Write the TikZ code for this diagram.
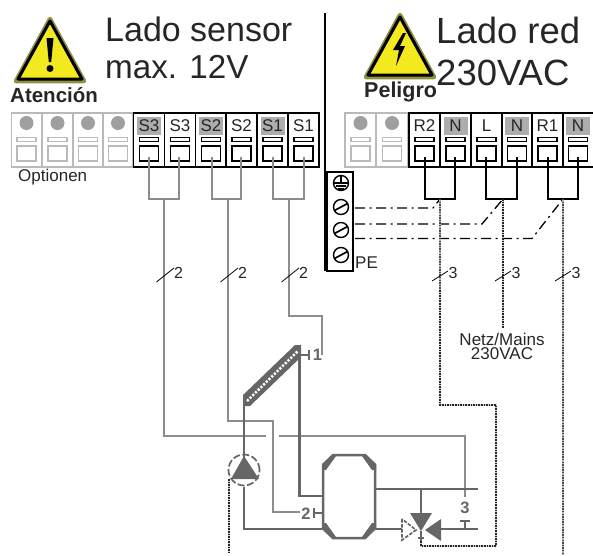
\documentclass[tikz,border=0pt]{standalone}
\usepackage{fontspec}
\setmainfont{Liberation Sans}
\definecolor{pipe}{HTML}{666666}
\definecolor{sig}{HTML}{8C8C8C}
\definecolor{optg}{HTML}{BABABA}
\definecolor{hl}{HTML}{ADADAD}
\definecolor{warn}{HTML}{F2EA1E}
\definecolor{olive}{HTML}{8F8F45}
\tikzset{
  txt/.style={inner sep=0pt,anchor=base west,text=black!85},
  sigwire/.style={draw=sig,line width=1.6pt},
  blackwire/.style={draw=black,line width=1.4pt},
  mainsdark/.style={draw=black!85,line width=1.5pt,dash pattern=on 1.6pt off 1pt,preaction={draw=gray!35,line width=1.9pt,solid}},
  mainsgray/.style={draw=black!70,line width=1.3pt,dash pattern=on 1.4pt off 1.2pt,preaction={draw=gray!55,line width=2.6pt,solid}},
  pipeline/.style={draw=pipe,line width=2.4pt},
  dashdot/.style={draw=black,line width=1.3pt,dash pattern=on 10pt off 4.5pt on 2pt off 4.5pt},
  slashmark/.style={draw=black,line width=.8pt},
  tinytxt/.style={inner sep=0pt,anchor=base,font=\fontsize{16}{16}\selectfont,text=black!85},
  pipetxt/.style={inner sep=0pt,font=\fontsize{16.5}{16.5}\selectfont\bfseries,text=pipe},
  screwc/.style={circle,draw=black,line width=1.4pt,minimum size=15pt,inner sep=0pt,fill=white},
}
\begin{document}
\begin{tikzpicture}[x=1pt,y=-1pt]
\useasboundingbox (0,0) rectangle (593,555);
% --- warning triangles
\path[fill=warn,draw=olive,line width=4.5pt,line join=round] (50,19)--(84,81)--(16,81)--cycle;
\path[draw=black,line width=3pt,line join=round] (50,21)--(82,79)--(18,79)--cycle;
\path[fill=black] (46.5,38)--(53.5,38)--(51.2,62)--(48.8,62)--cycle;
\fill[black] (50,68.5) circle (3.5pt);
\path[fill=warn,draw=olive,line width=4.5pt,line join=round] (400,15)--(434,77)--(366,77)--cycle;
\path[draw=black,line width=3pt,line join=round] (400,17)--(432,75)--(368,75)--cycle;
\path[fill=black] (403,33)--(393,50)--(399,50)--(396,66)--(405,46)--(400,46)--(406,33)--cycle;
% --- titles
\node[txt,font=\fontsize{34}{34}\selectfont] (t1) at (105,41) {Lado sensor};
\node[txt,font=\fontsize{33.2}{33.2}\selectfont] (t2) at (105,78) {max. 12V};
\node[txt,font=\fontsize{36.5}{36.5}\selectfont] (t3) at (436,43) {Lado red};
\node[txt,font=\fontsize{36.5}{36.5}\selectfont] (t4) at (436,85) {230VAC};
\node[txt,font=\fontsize{20.5}{20.5}\selectfont\bfseries] (t5) at (10,102) {Atención};
\node[txt,font=\fontsize{21.5}{21.5}\selectfont\bfseries] (t6) at (364,97) {Peligro};
\node[txt,font=\fontsize{17}{17}\selectfont] (t7) at (18,181) {Optionen};
% --- optional (gray) terminals
\foreach \cx/\w in {26.5/30,57.5/30,88/30,118/30,360.5/31,392/31}{
  \draw[optg,line width=1.8pt] (\cx-\w/2,113) rectangle (\cx+\w/2,167);
  \fill[gray!75] (\cx,123) circle (7pt);
  \draw[optg,line width=1.5pt] (\cx-9.5,137.5) rectangle (\cx+9.5,141.5);
  \draw[optg,line width=1.8pt] (\cx-9.5,146) rectangle (\cx+9.5,161);
}
% --- live terminals
\foreach \n/\cx/\l/\sh/\wx in {
  a/149/S3/1/149,b/180/S3/0/179,c/211/S2/1/212,d/241.5/S2/0/241,e/272.5/S1/1/273,f/303.5/S1/0/304,
  g/424.5/R2/0/425,h/455.5/N/1/455,i/486.5/L/0/486,j/517/N/1/517,k/547.5/R1/0/548,l/578/N/1/578}{
  \ifnum\sh=1 \fill[hl] (\cx-12,117) rectangle (\cx+12,135); \fi
  \draw[black,line width=1.5pt] (\cx-15.5,113) rectangle (\cx+15.5,167);
  \node[inner sep=0pt,anchor=base,font=\fontsize{17}{17}\selectfont,text=black!85] (lab\n) at (\cx,131) {\l};
  \draw[black,line width=1.2pt] (\cx-9.5,137.5) rectangle (\cx+9.5,141.5);
  \draw[black,line width=1.4pt] (\cx-9.5,146) rectangle (\cx+9.5,161);
  \coordinate (pin\n) at (\wx,157);
}
% --- junctions
\coordinate (j3) at (164,199);\coordinate (j2) at (228,199);\coordinate (j1) at (289,199);
\coordinate (jr) at (440,199);\coordinate (jl) at (503,199);\coordinate (jq) at (563,199);
\draw[sigwire] (pina) |- (j3); \draw[sigwire] (pinb) |- (j3);
\draw[sigwire] (pinc) |- (j2); \draw[sigwire] (pind) |- (j2);
\draw[sigwire] (pine) |- (j1); \draw[sigwire] (pinf) |- (j1);
\draw[blackwire] (ping) |- (jr); \draw[blackwire] (pinh) |- (jr);
\draw[blackwire] (pini) |- (jl); \draw[blackwire] (pinj) |- (jl);
\draw[blackwire] (pink) |- (jq); \draw[blackwire] (pinl) |- (jq);
% --- divider and PE block
\draw[black,line width=2.4pt] (325,13) -- (325,271);
\draw[black,line width=1.5pt] (327,172) rectangle (353,271);
\node[screwc] (gnd) at (341,183) {};
\draw[black,line width=1.1pt] (341,175.5)--(341,183) (334,183)--(348,183) (336,186)--(346,186) (338,189)--(344,189);
\foreach \n/\y in {sa/207,sb/230,sc/255}{
  \node[screwc] (\n) at (341,\y) {};
  \draw[black,line width=1.7pt] (334.5,\y+3.5)--(347.5,\y-3.5);
}
\node[txt,font=\fontsize{17}{17}\selectfont] (pe) at (355,268) {PE};
% --- dash-dot earth connections
\coordinate (ea) at (355,208);\coordinate (eb) at (355,224);\coordinate (ec) at (355,238.5);
\draw[dashdot] (ea) -- (433,208) -- (jr);
\draw[dashdot] (eb) -- (482,224) -- (jl);
\draw[dashdot] (ec) -- (532,238.5) -- (jq);
% --- mains wires
\coordinate (v1) at (421,546);\coordinate (v2) at (496,546);\coordinate (v3) at (496,405);\coordinate (v4) at (440,405);
\draw[mainsgray] (jr) -- (440,290);
\draw[mainsdark] (440,290) -- (v4) -- (v3) -- (v2) -- (v1) -- (421,540);
\draw[mainsdark] (jl) -- (503,328);
\draw[mainsgray] (jq) -- (563,555);
\draw[mainsdark] (229,479) -- (229,553);
% --- Netz label
\node[inner sep=0pt,anchor=base,font=\fontsize{17}{17}\selectfont,text=black!85] (nm) at (502,345) {Netz/Mains};
\node[inner sep=0pt,anchor=base,font=\fontsize{17}{17}\selectfont,text=black!85] (nv) at (502,359) {230VAC};
% --- sensor wires
\coordinate (s3a) at (164,436);\coordinate (s3b) at (266,436);\coordinate (s3c) at (279,436);\coordinate (s3d) at (465,436);\coordinate (s3e) at (465,497);
\draw[sigwire] (j3) -- (s3a) -- (s3b);
\draw[sigwire] (s3c) -- (s3d) -- (s3e);
\coordinate (s2a) at (228,421);\coordinate (s2b) at (273,421);\coordinate (s2c) at (273,512);\coordinate (s2d) at (300,512);
\draw[sigwire] (j2) -- (s2a) -- (s2b) -- (s2c) -- (s2d);
\coordinate (s1a) at (289,316);\coordinate (s1b) at (322,316);\coordinate (s1c) at (322,355);
\draw[sigwire] (j1) -- (s1a) -- (s1b) -- (s1c);
% --- count marks
\foreach \n/\x/\l in {ma/164/2,mb/228/2,mc/289/2}{
  \draw[slashmark] (\x-7.5,282) -- (\x+10,268);
  \node[tinytxt,anchor=base west] (\n) at (\x+10,278) {\l};
}
\foreach \n/\x/\l in {md/440/3,me/503/3,mf/563/3}{
  \draw[slashmark] (\x-8,281) -- (\x+8,271);
  \node[tinytxt,anchor=base west] (\n) at (\x+8.5,278) {\l};
}
% --- hydraulics
\coordinate (pumpc) at (244,470);
\draw[pipe,line width=2pt] (243.5,405) -- (243.5,458);
\draw[pipe,line width=2.2pt] (299.5,355) -- (299.5,496) -- (323,496);
\draw[pipeline] (244,487) -- (244,529) -- (323,529);
% collector
\fill[pipe] (243,395)--(295,345)--(301,345)--(301,357)--(250,406)--(243,406)--cycle;
\draw[white,line width=2.5pt,dash pattern=on 2.2pt off 1.6pt] (247,401)--(298,351);
% pump
\draw[pipe,line width=1.7pt,dash pattern=on 7pt off 2.5pt] (pumpc) circle (15.5pt);
\fill[pipe] (244,456)--(259,479)--(231,479)--cycle;
% tank
\draw[pipe,line width=2.5pt] (333,455)--(365,455)--(375,465)--(375,528)--(365,538)--(333,538)--(323,528)--(323,465)--cycle;
\fill[pipe] (322,464)--(333,454)--(336,456)--(326,470)--(322,470)--cycle;
\fill[pipe] (376,464)--(365,454)--(362,456)--(372,470)--(376,470)--cycle;
\fill[pipe] (322,529)--(333,539)--(336,537)--(326,523)--(322,523)--cycle;
\fill[pipe] (376,529)--(365,539)--(362,537)--(372,523)--(376,523)--cycle;
% right pipes
\draw[pipeline] (375,489) -- (478,489);
\draw[pipeline] (375,529) -- (402,529);
\draw[pipeline] (441,529) -- (478,529);
\draw[pipeline] (421,489) -- (421,513);
% valve
\fill[pipe] (410,513)--(432,513)--(421,531)--cycle;
\fill[pipe] (441,519)--(441,541)--(425,530)--cycle;
\draw[pipe,line width=1.7pt,dash pattern=on 3.5pt off 1.5pt] (402,519)--(402,540)--(416,530)--cycle;
\draw[pipe,line width=1.4pt] (421,531)--(421,541) (418,538)--(424,538);
% sensor symbols
\draw[pipe,line width=1.8pt] (300,355)--(309,355) (309,350)--(309,360);
\node[pipetxt] (n1) at (317.5,355) {1};
\draw[pipe,line width=1.8pt] (323,513)--(314,513) (314,508)--(314,518);
\node[pipetxt] (n2) at (306,514) {2};
\draw[pipe,line width=1.8pt] (465,529)--(465,521) (460,521)--(470,521);
\node[pipetxt] (n3) at (465,508) {3};
\end{tikzpicture}
\end{document}
